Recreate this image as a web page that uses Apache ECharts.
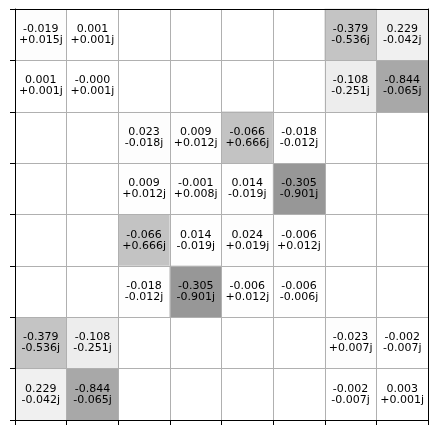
<!DOCTYPE html>
<html>
<head>
<meta charset="utf-8">
<script src="https://cdn.jsdelivr.net/npm/echarts@6/dist/echarts.min.js"></script>
<style>html,body{margin:0;padding:0;background:#fff;}#c{width:438px;height:435px;}</style>
</head>
<body>
<div id="c"></div>
<script>
var categories = ['0','1','2','3','4','5','6','7'];
var cellRows = [0,0,0,0, 1,1,1,1, 2,2,2,2, 3,3,3,3, 4,4,4,4, 5,5,5,5, 6,6,6,6, 7,7,7,7];
var cellCols = [0,1,6,7, 0,1,6,7, 2,3,4,5, 2,3,4,5, 2,3,4,5, 2,3,4,5, 0,1,6,7, 0,1,6,7];
var realParts = [-0.019,0.001,-0.379,0.229,
                  0.001,-0.0004,-0.108,-0.844,
                  0.023,0.009,-0.066,-0.018,
                  0.009,-0.001,0.014,-0.305,
                 -0.066,0.014,0.024,-0.006,
                 -0.018,-0.305,-0.006,-0.006,
                 -0.379,-0.108,-0.023,-0.002,
                  0.229,-0.844,-0.002,0.003];
var imagParts = [0.015,0.001,-0.536,-0.042,
                 0.001,0.001,-0.251,-0.065,
                -0.018,0.012,0.666,-0.012,
                 0.012,0.008,-0.019,-0.901,
                 0.666,-0.019,0.019,0.012,
                -0.012,-0.901,0.012,-0.006,
                -0.536,-0.251,0.007,-0.007,
                -0.042,-0.065,-0.007,0.001];
var greys = ['#ffffff','#f0f0f0','#d9d9d9','#bdbdbd','#969696','#737373','#525252','#252525','#000000'];

var data = cellRows.map(function(r, i){
  var re = realParts[i], im = imagParts[i];
  var mag = Math.sqrt(re*re + im*im);
  var lab = re.toFixed(3) + '\n' + (im >= 0 ? '+' : '') + im.toFixed(3) + 'j';
  return {value: [cellCols[i], r, mag], lab: lab};
});

var chart = echarts.init(document.getElementById('c'), null, {renderer: 'canvas'});
var axisCommon = {
  type: 'category', data: categories, boundaryGap: true,
  axisLabel: {show: false},
  z: 10
};
chart.setOption({
  animation: false,
  backgroundColor: '#ffffff',
  grid: {left: 15, top: 9, right: 10, bottom: 15, containLabel: false},
  xAxis: [
    Object.assign({}, axisCommon, {
      position: 'bottom',
      axisLine: {show: true, lineStyle: {color: '#000', width: 1}},
      axisTick: {show: true, length: 5, inside: false, lineStyle: {color: '#000', width: 1}},
      splitLine: {show: true, interval: 0, lineStyle: {color: '#b0b0b0', width: 1}}
    }),
    Object.assign({}, axisCommon, {
      position: 'top',
      axisLine: {show: true, onZero: false, lineStyle: {color: '#000', width: 1}},
      axisTick: {show: false},
      splitLine: {show: false}
    })
  ],
  yAxis: [
    Object.assign({}, axisCommon, {
      position: 'left', inverse: true,
      axisLine: {show: true, onZero: false, lineStyle: {color: '#000', width: 1}},
      axisTick: {show: true, length: 5, inside: false, lineStyle: {color: '#000', width: 1}},
      splitLine: {show: true, interval: 0, lineStyle: {color: '#b0b0b0', width: 1}}
    }),
    Object.assign({}, axisCommon, {
      position: 'right', inverse: true,
      axisLine: {show: true, onZero: false, lineStyle: {color: '#000', width: 1}},
      axisTick: {show: false},
      splitLine: {show: false}
    })
  ],
  visualMap: {
    show: false, type: 'continuous', min: 0, max: 1.92, dimension: 2,
    seriesIndex: 0, inRange: {color: greys}
  },
  series: [{
    type: 'heatmap',
    xAxisIndex: 0, yAxisIndex: 0,
    data: data,
    label: {
      show: true,
      formatter: function(p){ return p.data.lab; },
      color: '#000', fontFamily: 'DejaVu Sans', fontSize: 11, lineHeight: 11
    },
    itemStyle: {borderWidth: 0},
    emphasis: {disabled: true}
  }]
});
</script>
</body>
</html>
